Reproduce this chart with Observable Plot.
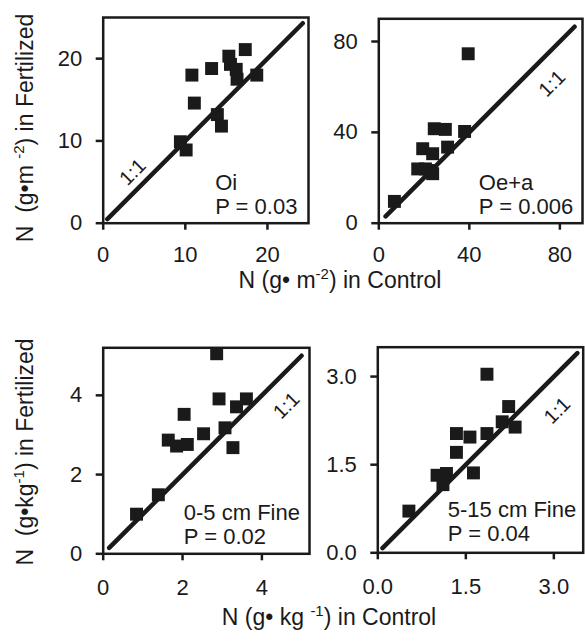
<!DOCTYPE html>
<html>
<head>
<meta charset="utf-8">
<script src="https://cdn.jsdelivr.net/npm/d3@7"></script>
<script src="https://cdn.jsdelivr.net/npm/@observablehq/plot@0.6"></script>
<style>
  body { margin: 0; background: #fff; }
  #chart { position: relative; width: 585px; height: 644px; font-family: "Liberation Sans", Arial, sans-serif; color: #1a1a1a; overflow: hidden; }
  #chart .panel { position: absolute; }
  #chart svg .tick line, #chart svg g[aria-label$="tick"] path { stroke-width: 2.5px; }
  .title { position: absolute; font-size: 23px; line-height: 1; white-space: nowrap; }
  .title sup { font-size: 15px; vertical-align: 0.55em; line-height: 0; }
  .rot { transform: translate(-50%, -50%) rotate(-90deg); }
  .hor { transform: translate(-50%, -50%); }
</style>
</head>
<body>
<div id="chart"></div>
<script>
// ---- Data ----
// Panel Oi (g m-2)
const oiControl    = [17.3, 15.3, 15.5, 16.2, 16.3, 10.8, 13.2, 18.7, 11.1, 13.9, 14.4, 9.4, 10.1];
const oiFertilized = [21.1, 20.3, 19.3, 18.7, 17.5, 18.0, 18.8, 18.0, 14.6, 13.2, 11.8, 9.9, 8.9];
// Panel Oe+a (g m-2)
const oeControl    = [39.5, 37.9, 24.5, 29.4, 30.4, 19.4, 23.8, 17.2, 20.6, 23.1, 23.8, 6.9];
const oeFertilized = [74.6, 40.4, 41.6, 41.3, 33.5, 32.8, 30.6, 23.9, 23.9, 23.2, 21.8, 9.6];
// Panel 0-5 cm Fine (g kg-1)
const fine05Control    = [2.86, 2.92, 3.61, 3.36, 2.04, 2.53, 3.07, 1.64, 1.85, 2.12, 3.27, 1.39, 0.84];
const fine05Fertilized = [5.05, 3.91, 3.91, 3.71, 3.52, 3.03, 3.18, 2.87, 2.72, 2.76, 2.68, 1.49, 1.00];
// Panel 5-15 cm Fine (g kg-1)
const fine515Control    = [1.86, 2.23, 2.12, 2.34, 1.34, 1.57, 1.86, 1.34, 1.63, 1.01, 1.17, 1.11, 0.53];
const fine515Fertilized = [3.04, 2.49, 2.23, 2.14, 2.03, 1.97, 2.03, 1.71, 1.36, 1.32, 1.35, 1.16, 0.71];

// 1:1 reference line extents
const oiDiag = [0.5, 24.3];
const oeDiag = [3, 86.5];
const fine05Diag = [0.15, 5.0];
const fine515Diag = [0.08, 3.4];

// Tick values
const oiTicks = [0, 10, 20];
const oeTicks = [0, 40, 80];
const fine05Ticks = [0, 2, 4];
const fine515Ticks = [0, 1.5, 3.0];

// Panel texts
const panelNames = ["Oi", "Oe+a", "0-5 cm Fine", "5-15 cm Fine"];
const panelP = ["P = 0.03", "P = 0.006", "P = 0.02", "P = 0.04"];
const oneToOne = "1:1";

const ink = "#1a1a1a";
const chart = document.getElementById("chart");

function panel(cfg) {
  const pts = cfg.cx.map((c, i) => ({c, f: cfg.fy[i]}));
  const svg = Plot.plot({
    width: cfg.w, height: cfg.h,
    marginLeft: cfg.ml, marginRight: cfg.mr, marginTop: cfg.mt, marginBottom: cfg.mb,
    style: {background: "transparent", color: ink, fontSize: "22px", fontFamily: "'Liberation Sans', Arial, sans-serif", overflow: "visible"},
    x: {domain: cfg.domain, ticks: cfg.ticks, tickFormat: cfg.fmt, tickSize: 7, tickPadding: cfg.xpad, label: null},
    y: {domain: cfg.domain, ticks: cfg.ticks, tickFormat: cfg.fmt, tickSize: 7, tickPadding: 14, label: null},
    marks: [
      Plot.frame({stroke: ink, strokeWidth: 2.5}),
      Plot.line(cfg.diag, {x: d => d, y: d => d, stroke: ink, strokeWidth: 4.5}),
      Plot.dot(pts, {x: "c", y: "f", symbol: "square", r: 7.3, fill: ink, stroke: null}),
      Plot.text([oneToOne], {x: cfg.lx, y: cfg.ly, rotate: -45, fontSize: 20, fill: ink}),
      Plot.text([cfg.name + "\n" + cfg.p], {frameAnchor: "bottom-left", textAnchor: "start", lineAnchor: "bottom",
        lineHeight: 1.08, dx: cfg.tdx, dy: cfg.tdy, fontSize: 22, fill: ink})
    ]
  });
  svg.classList.add("panel");
  svg.style.left = cfg.left + "px";
  svg.style.top = cfg.top + "px";
  chart.appendChild(svg);
}

panel({left: 0, top: 0, w: 315, h: 300, ml: 102.7, mr: 7, mt: 17, mb: 77.3, xpad: 16,
  domain: [0, 25], ticks: oiTicks, fmt: d3.format("d"), cx: oiControl, fy: oiFertilized, diag: oiDiag,
  lx: 3.6, ly: 6.2, name: panelNames[0], p: panelP[0], tdx: 112, tdy: -9.7});
panel({left: 315, top: 0, w: 270, h: 300, ml: 63.3, mr: 3, mt: 18.3, mb: 77.3, xpad: 16,
  domain: [0, 90], ticks: oeTicks, fmt: d3.format("d"), cx: oeControl, fy: oeFertilized, diag: oeDiag,
  lx: 76.6, ly: 61.4, name: panelNames[1], p: panelP[1], tdx: 100, tdy: -9.7});
panel({left: 0, top: 300, w: 315, h: 344, ml: 102.7, mr: 6, mt: 47.3, mb: 90.7, xpad: 19,
  domain: [0, 5.2], ticks: fine05Ticks, fmt: d3.format("d"), cx: fine05Control, fy: fine05Fertilized, diag: fine05Diag,
  lx: 4.62, ly: 3.74, name: panelNames[2], p: panelP[2], tdx: 80.6, tdy: -10});
panel({left: 315, top: 300, w: 270, h: 344, ml: 62.3, mr: 2.3, mt: 46.7, mb: 91.7, xpad: 19,
  domain: [0, 3.5], ticks: fine515Ticks, fmt: d3.format(".1f"), cx: fine515Control, fy: fine515Fertilized, diag: fine515Diag,
  lx: 3.06, ly: 2.42, name: panelNames[3], p: panelP[3], tdx: 70, tdy: -12});

// Axis titles
function title(html, cls, x, y) {
  const d = document.createElement("div");
  d.className = "title " + cls;
  d.style.left = x + "px";
  d.style.top = y + "px";
  d.innerHTML = html;
  chart.appendChild(d);
}
title("N&nbsp; (g\u2022m <sup>-2</sup>) in Fertilized", "rot", 25, 128);
title("N (g\u2022 m<sup>-2</sup>) in Control", "hor", 340, 280);
title("N&nbsp; (g\u2022kg<sup>-1</sup>) in Fertilized", "rot", 25, 452);
title("N (g\u2022 kg <sup>-1</sup>) in Control", "hor", 329, 617);
</script>
</body>
</html>
